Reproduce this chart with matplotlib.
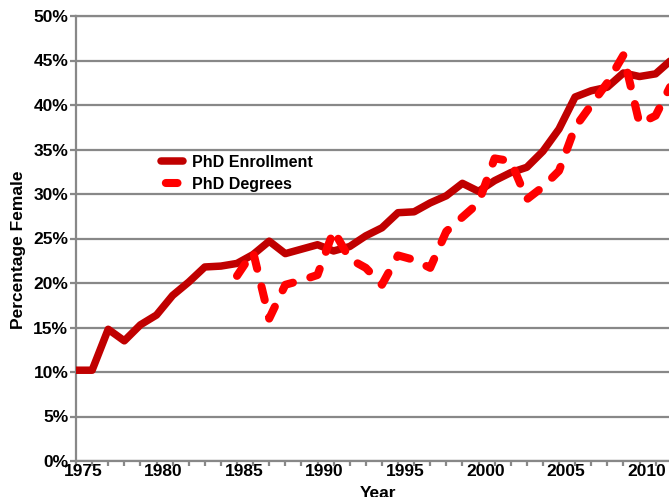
import matplotlib
matplotlib.use("Agg")
import matplotlib.pyplot as plt
from matplotlib.lines import Line2D
from matplotlib.transforms import ScaledTranslation
from matplotlib.ticker import FuncFormatter, MultipleLocator

# ---- data ----
enroll_years = list(range(1975, 2013))
enrollment = [10.2, 10.2, 14.8, 13.5, 15.3, 16.4, 18.6, 20.1, 21.8, 21.9,
              22.2, 23.2, 24.7, 23.3, 23.8, 24.3, 23.6, 24.1, 25.3, 26.2,
              27.9, 28.0, 29.0, 29.8, 31.2, 30.3, 31.5, 32.4, 33.0, 34.8,
              37.3, 40.9, 41.6, 42.0, 43.6, 43.2, 43.5, 45.1]
degree_years = list(range(1985, 2013))
degrees = [20.8, 23.5, 16.0, 19.8, 20.3, 20.9, 25.9, 22.7, 21.7, 19.8,
           23.1, 22.6, 21.7, 25.8, 27.4, 29.0, 34.0, 33.7, 29.4, 30.8,
           32.6, 37.5, 40.0, 42.5, 45.6, 37.9, 38.8, 42.4]
x_tick_years = [1975, 1980, 1985, 1990, 1995, 2000, 2005, 2010]
y_ticks = [0, 5, 10, 15, 20, 25, 30, 35, 40, 45, 50]
series_labels = ["PhD Enrollment", "PhD Degrees"]

W, H = 669, 497
fig = plt.figure(figsize=(W / 100, H / 100), dpi=100)
ax = fig.add_axes([76 / W, 36 / H, (W - 76) / W, 445 / H])

grey = "#888888"
c_enr = "#C00000"
c_deg = "#FF0000"

ax.plot(enroll_years, enrollment, color=c_enr, lw=5.4,
        solid_capstyle="round", solid_joinstyle="round", zorder=3)
ax.plot(degree_years, degrees, color=c_deg, lw=5.8,
        linestyle=(0, (1.75, 2.25)), dash_capstyle="round",
        dash_joinstyle="round", zorder=4)

ax.set_xlim(1975, 1975 + (W - 76) / 16.1)
ax.set_ylim(0, 50)

ax.spines["right"].set_visible(False)
for s in ["left", "bottom", "top"]:
    ax.spines[s].set_color(grey)
    ax.spines[s].set_linewidth(1.6)

ax.set_yticks(y_ticks)
ax.yaxis.set_major_formatter(FuncFormatter(lambda v, p: f"{int(v)}%"))
ax.yaxis.grid(True, color=grey, lw=1.6)
ax.set_axisbelow(True)
ax.tick_params(axis="y", direction="out", length=4.5, width=1.6, color=grey,
               pad=1)

ax.set_xticks(x_tick_years)
ax.set_xticklabels([str(y) for y in x_tick_years])
ax.xaxis.set_minor_locator(MultipleLocator(1))
ax.tick_params(axis="x", which="both", direction="out", length=3.5,
               width=1.6, color=grey, pad=-1)

for lab in ax.get_yticklabels() + ax.get_xticklabels():
    lab.set_fontfamily("Liberation Sans")
    lab.set_fontweight("bold")
    lab.set_fontsize(12.5)
off = ScaledTranslation(7 / 100, 0, fig.dpi_scale_trans)
for lab in ax.get_xticklabels():
    lab.set_transform(lab.get_transform() + off)

fig.text(18.5 / W, 1 - 250 / H, "Percentage Female", rotation=90,
         ha="center", va="center", fontfamily="Liberation Sans",
         fontweight="bold", fontsize=12.5)
fig.text(378 / W, 1 - 486 / H, "Year", ha="center", va="top",
         fontfamily="Liberation Sans", fontweight="bold", fontsize=12.5)

h1 = Line2D([0], [0], color=c_enr, lw=5.4, solid_capstyle="round")
h2 = Line2D([0], [0], color=c_deg, lw=5.8,
            linestyle=(10.85, (1.45, 10)), dash_capstyle="round")
leg = ax.legend([h1, h2], series_labels, loc="upper left",
                bbox_to_anchor=(161 / W, 1 - 155 / H),
                bbox_transform=fig.transFigure, frameon=False,
                borderpad=0, borderaxespad=0, handlelength=1.375,
                handletextpad=0.54, labelspacing=0.42,
                prop={"family": "Liberation Sans", "weight": "bold",
                      "size": 11.5})

fig.savefig("out.png", dpi=100)
